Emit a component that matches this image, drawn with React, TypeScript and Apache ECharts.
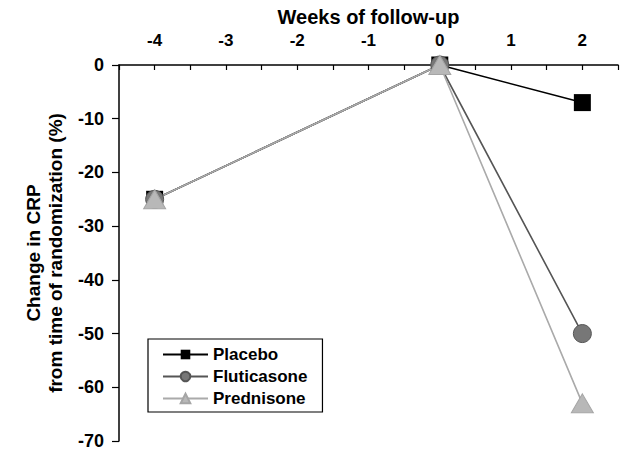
import React, { useEffect, useRef } from "react";
import * as echarts from "echarts";

const weeks = [-4, 0, 2];
const placebo = [-25, 0, -7];
const fluticasone = [-25, 0, -50];
const prednisone = [-25, 0, -63];
const seriesNames = ["Placebo", "Fluticasone", "Prednisone"];

const FONT = "'Liberation Sans', Arial, sans-serif";

export default function App() {
  const ref = useRef<HTMLDivElement>(null);
  useEffect(() => {
    if (!ref.current) return;
    const chart = echarts.init(ref.current, undefined, { renderer: "svg" });
    const pts = (vals: number[]) => weeks.map((w, i) => [w, vals[i]]);
    chart.setOption({
      animation: false,
      backgroundColor: "#fff",
      grid: { left: 119, right: 4, top: 65, bottom: 13 },
      legend: {
        orient: "vertical",
        left: 148,
        top: 339,
        data: seriesNames,
        borderColor: "#000",
        borderWidth: 1.2,
        padding: [7, 15, 5, 14],
        itemWidth: 45,
        itemHeight: 12,
        itemGap: 5,
        textStyle: { fontFamily: FONT, fontWeight: "bold", fontSize: 17, color: "#000" },
      },
      xAxis: {
        type: "value",
        position: "top",
        min: -4.5,
        max: 2.5,
        interval: 0.5,
        name: "Weeks of follow-up",
        nameLocation: "middle",
        nameGap: 38,
        nameTextStyle: { fontFamily: FONT, fontWeight: "bold", fontSize: 20, color: "#000" },
        axisLine: { onZero: false, lineStyle: { color: "#000", width: 1.5 } },
        axisTick: { inside: true, length: 5, lineStyle: { color: "#000", width: 1.2 } },
        axisLabel: {
          margin: 16,
          fontFamily: FONT,
          fontWeight: "bold",
          fontSize: 17,
          color: "#000",
          formatter: (v: number) => (Number.isInteger(v) && v > -4.5 && v < 2.5 ? String(v) : ""),
        },
        splitLine: { show: false },
      },
      yAxis: {
        type: "value",
        min: -70,
        max: 0,
        interval: 10,
        name: "Change in CRP\nfrom time of randomization (%)",
        nameLocation: "middle",
        nameRotate: 90,
        nameGap: 53,
        nameTextStyle: { fontFamily: FONT, fontWeight: "bold", fontSize: 19, color: "#000", lineHeight: 22 },
        axisLine: { onZero: false, lineStyle: { color: "#000", width: 1.5 } },
        axisTick: { inside: false, length: 7, lineStyle: { color: "#000", width: 1.2 } },
        axisLabel: { margin: 15, fontFamily: FONT, fontWeight: "bold", fontSize: 18, color: "#000" },
        splitLine: { show: false },
      },
      series: [
        {
          name: seriesNames[0],
          type: "line",
          data: pts(placebo),
          symbol: "rect",
          symbolSize: 17,
          color: "#000",
          lineStyle: { color: "#000", width: 1.6 },
          itemStyle: { color: "#000" },
        },
        {
          name: seriesNames[1],
          type: "line",
          data: pts(fluticasone),
          symbol: "circle",
          symbolSize: 18,
          color: "#707070",
          lineStyle: { color: "#555", width: 1.6 },
          itemStyle: { color: "#777", borderColor: "#555", borderWidth: 1 },
        },
        {
          name: seriesNames[2],
          type: "line",
          data: pts(prednisone),
          symbol: "triangle",
          symbolSize: [22, 19],
          color: "#b5b5b5",
          lineStyle: { color: "#aaa", width: 1.6 },
          itemStyle: { color: "#b8b8b8", borderColor: "#a5a5a5", borderWidth: 1 },
        },
      ],
    });
    return () => chart.dispose();
  }, []);
  return <div ref={ref} style={{ width: 622, height: 454, position: "absolute", left: 0, top: 0 }} />;
}
